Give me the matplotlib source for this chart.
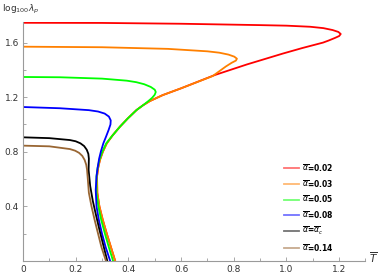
import matplotlib.pyplot as plt
from matplotlib.ticker import FixedLocator

# curves, from the x=0 end towards y=0
red_x = [0, 0.3, 0.6, 0.9, 1.0, 1.09, 1.14, 1.175, 1.197, 1.206, 1.2, 1.184, 1.16, 1.139,
         1.06, 0.987, 0.85, 0.729, 0.6, 0.53, 0.482, 0.455, 0.431, 0.398, 0.368, 0.34, 0.318,
         0.303, 0.292, 0.285, 0.281, 0.282, 0.29, 0.303, 0.318, 0.334, 0.35]
red_y = [1.745, 1.744, 1.738, 1.728, 1.724, 1.716, 1.706, 1.692, 1.678, 1.663, 1.648, 1.634,
         1.615, 1.6, 1.56, 1.52, 1.44, 1.363, 1.265, 1.215, 1.172, 1.14, 1.106, 1.045, 0.984,
         0.92, 0.862, 0.8, 0.74, 0.68, 0.62, 0.5, 0.4, 0.3, 0.2, 0.1, 0.0]

orange_x = [0, 0.3, 0.55, 0.7, 0.745, 0.78, 0.802, 0.812, 0.808, 0.792, 0.77, 0.745, 0.72,
            0.6, 0.53, 0.482, 0.455, 0.431, 0.398, 0.368, 0.34, 0.318, 0.303, 0.292, 0.285,
            0.281, 0.282, 0.29, 0.303, 0.318, 0.334, 0.35]
orange_y = [1.57, 1.566, 1.554, 1.536, 1.526, 1.512, 1.497, 1.482, 1.468, 1.452, 1.425,
            1.39, 1.355, 1.265, 1.215, 1.172, 1.14, 1.106, 1.045, 0.984, 0.92, 0.862, 0.8,
            0.74, 0.68, 0.62, 0.5, 0.4, 0.3, 0.2, 0.1, 0.0]

green_x = [0, 0.14, 0.3, 0.394, 0.43, 0.46, 0.485, 0.5, 0.504, 0.5, 0.49, 0.476, 0.455,
           0.431, 0.398, 0.368, 0.34, 0.316, 0.301, 0.29, 0.283, 0.279, 0.279, 0.286, 0.297,
           0.311, 0.326, 0.342]
green_y = [1.348, 1.346, 1.336, 1.321, 1.31, 1.295, 1.275, 1.255, 1.238, 1.218, 1.195,
           1.172, 1.14, 1.106, 1.045, 0.984, 0.92, 0.862, 0.8, 0.74, 0.68, 0.62, 0.5, 0.4,
           0.3, 0.2, 0.1, 0.0]

blue_x = [0, 0.14, 0.25, 0.285, 0.31, 0.326, 0.333, 0.332, 0.325, 0.315, 0.305, 0.296,
          0.289, 0.283, 0.279, 0.276, 0.279, 0.288, 0.3, 0.314, 0.331]
blue_y = [1.128, 1.119, 1.105, 1.095, 1.08, 1.058, 1.03, 1.0, 0.96, 0.91, 0.862, 0.805,
          0.75, 0.68, 0.62, 0.52, 0.4, 0.3, 0.2, 0.1, 0.0]

black_x = [0, 0.1, 0.178, 0.2, 0.218, 0.232, 0.242, 0.248, 0.25, 0.249, 0.255, 0.265,
           0.277, 0.29, 0.303, 0.32]
black_y = [0.906, 0.9, 0.886, 0.877, 0.862, 0.842, 0.815, 0.785, 0.75, 0.667, 0.55, 0.44,
           0.337, 0.23, 0.13, 0.0]

brown_x = [0, 0.1, 0.178, 0.198, 0.213, 0.225, 0.234, 0.24, 0.243, 0.246, 0.25, 0.26,
           0.272, 0.285, 0.298, 0.315]
brown_y = [0.845, 0.84, 0.82, 0.808, 0.792, 0.77, 0.74, 0.705, 0.67, 0.6, 0.5, 0.4, 0.3,
           0.2, 0.1, 0.0]

labels = [r'$\overline{\alpha}$=0.02', r'$\overline{\alpha}$=0.03', r'$\overline{\alpha}$=0.05',
          r'$\overline{\alpha}$=0.08', r'$\overline{\alpha}$=$\overline{\alpha}_c$',
          r'$\overline{\alpha}$=0.14']
colors = ['#ff0000', '#ff8000', '#00ff00', '#0000ff', '#000000', '#996633']

fig = plt.figure(figsize=(3.82, 2.73), dpi=100)
ax = fig.add_axes([0.0602, 0.044, 0.8966, 0.875])

curves = [(red_x, red_y), (orange_x, orange_y), (green_x, green_y),
          (blue_x, blue_y), (black_x, black_y), (brown_x, brown_y)]
for (xs, ys), c, lab in zip(curves, colors, labels):
    ax.plot(xs, ys, color=c, lw=1.3, label=lab, solid_joinstyle='round')

ax.set_xlim(0, 1.3)
ax.set_ylim(0, 1.75)

for s in ['top', 'right']:
    ax.spines[s].set_visible(False)
for s in ['left', 'bottom']:
    ax.spines[s].set_color('#9a9a9a')
    ax.spines[s].set_linewidth(0.8)

ax.xaxis.set_major_locator(FixedLocator([0, 0.2, 0.4, 0.6, 0.8, 1.0, 1.2]))
ax.xaxis.set_minor_locator(FixedLocator([0.1, 0.3, 0.5, 0.7, 0.9, 1.1, 1.3]))
ax.yaxis.set_major_locator(FixedLocator([0.4, 0.8, 1.2, 1.6]))
ax.yaxis.set_minor_locator(FixedLocator([0.2, 0.6, 1.0, 1.4]))
ax.set_xticklabels(['0', '0.2', '0.4', '0.6', '0.8', '1.0', '1.2'])
ax.tick_params(which='both', direction='in', color='#9a9a9a', labelsize=6.5,
               labelcolor='#333333', width=0.6)
ax.tick_params(which='major', length=3, pad=3)
ax.tick_params(which='minor', length=2)

fig.text(0.005, 0.965, r'log$_{100}\lambda_p$', fontsize=6.5, color='#333333', va='center')
fig.text(0.965, 0.055, r'$\overline{T}$', fontsize=7.5, color='#333333', va='center')

leg = ax.legend(loc='upper left', bbox_to_anchor=(0.762, 0.415), frameon=False,
                borderaxespad=0, borderpad=0,
                prop={'size': 5.5, 'weight': 'bold'}, handlelength=2.0,
                handletextpad=0.3, labelspacing=0.62)
for h in leg.get_lines():
    h.set_alpha(0.55)
    h.set_linewidth(1.3)

fig.savefig('out.png', dpi=100)
